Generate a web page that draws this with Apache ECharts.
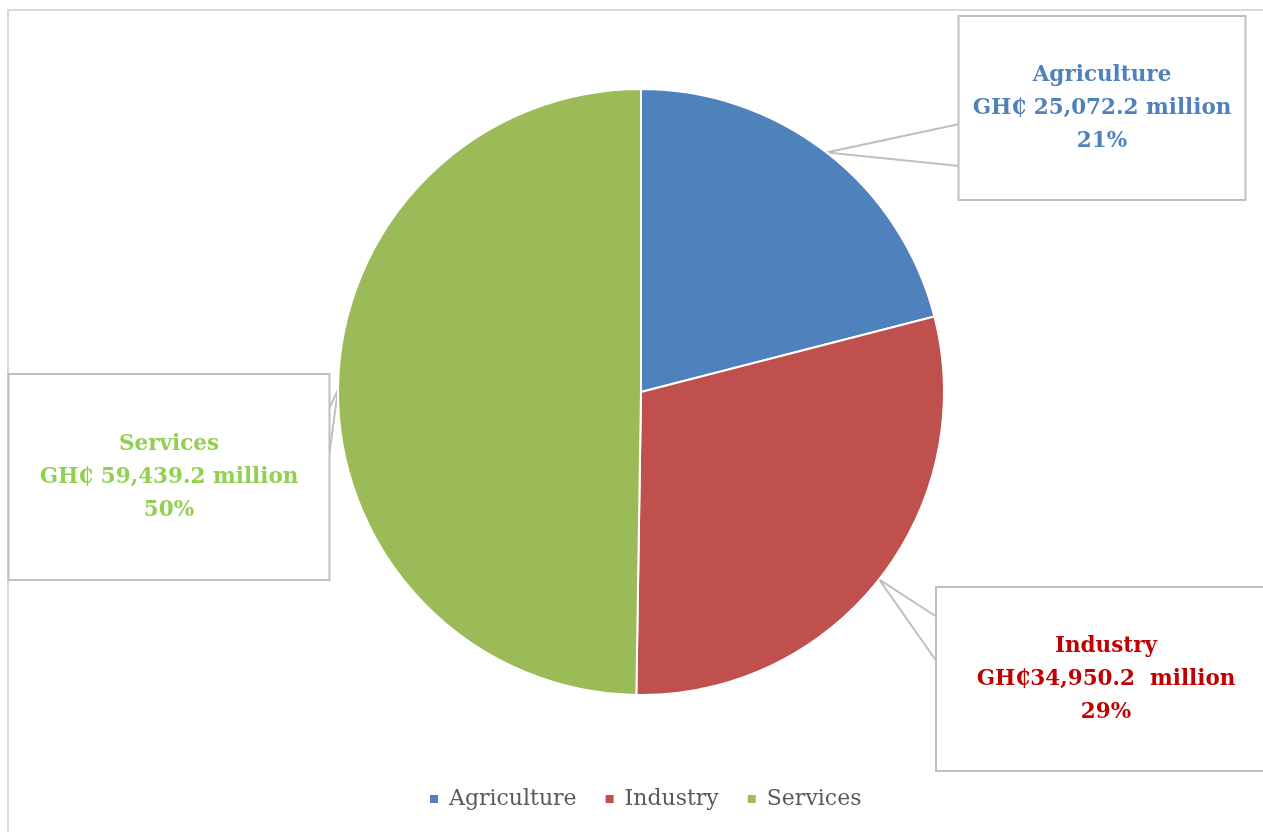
<!DOCTYPE html>
<html>
<head>
<meta charset="utf-8">
<script src="https://cdn.jsdelivr.net/npm/echarts@6/dist/echarts.min.js"></script>
<style>
  html, body { margin: 0; padding: 0; background: #fff; }
  #main { width: 1263px; height: 832px; }
</style>
</head>
<body>
<div id="main"></div>
<script>
// data
var categories = ['Agriculture', 'Industry', 'Services']
var values = [25072.2, 34950.2, 59439.2]
var currencyGap = [' ', '', ' ']      // space after GH₵ as printed
var unitGap = [' ', '  ', ' ']        // space before "million" as printed

// styles
var sliceColors = ['#4F81BD', '#C0504D', '#9BBB59']
var labelColors = ['#4F81BD', '#C00000', '#92D050']
// callout boxes: centre, size, and where the pointer meets the box side
var callouts = [
    { cx: 1102, cy: 108, w: 285, h: 182, side: 'left', py: [107, 149] },
    { cx: 1106, cy: 679, w: 338, h: 182, side: 'left', py: [29, 74] },
    { cx: 169, cy: 477, w: 319, h: 204, side: 'right', py: [35, 85] }
]

var chart = echarts.init(document.getElementById('main'))

function fmtAmount(i) {
    return 'GH₵' + currencyGap[i] +
        values[i].toLocaleString('en-US', { minimumFractionDigits: 1 }) +
        unitGap[i] + 'million'
}

var seriesData = categories.map(function (name, i) {
    var c = callouts[i]
    var pad = (c.h - 99) / 2
    return {
        name: name,
        value: values[i],
        itemStyle: { color: sliceColors[i] },
        label: {
            color: labelColors[i],
            width: c.w,
            padding: [pad + 7, 0, pad - 7, 0]
        }
    }
})

var option = {
    backgroundColor: '#fff',
    animation: false,
    graphic: [{
        type: 'rect',
        shape: { x: 8, y: 10, width: 1400, height: 1000 },
        style: { fill: 'none', stroke: '#d9d9d9', lineWidth: 2 },
        silent: true
    }],
    legend: {
        top: 788,
        left: 428,
        padding: 0,
        icon: 'rect',
        itemWidth: 10,
        itemHeight: 10,
        itemGap: 27,
        textStyle: { fontFamily: 'DejaVu Serif', fontSize: 22, color: '#595959', padding: [0, 0, 0, 5] },
        data: categories
    },
    series: [{
        type: 'pie',
        center: [641, 392],
        radius: 303,
        startAngle: 90,
        clockwise: true,
        data: seriesData,
        itemStyle: { borderColor: '#fff', borderWidth: 2 },
        label: {
            show: true,
            position: 'outside',
            fontFamily: 'DejaVu Serif',
            fontWeight: 'bold',
            fontSize: 21.5,
            lineHeight: 33,
            align: 'center',
            backgroundColor: '#fff',
            borderColor: '#bfbfbf',
            borderWidth: 2,
            formatter: function (p) {
                return p.name + '\n' + fmtAmount(p.dataIndex) + '\n' + Math.round(p.percent) + '%'
            }
        },
        labelLine: {
            show: true,
            length: 10,
            length2: 10,
            lineStyle: { color: '#bfbfbf', width: 2 }
        },
        labelLayout: function (params) {
            var c = callouts[params.dataIndex]
            var anchor = params.labelLinePoints ? params.labelLinePoints[0] : null
            var edgeX = c.side === 'left' ? c.cx - c.w / 2 : c.cx + c.w / 2
            var top = c.cy - c.h / 2
            var res = {
                x: c.cx,
                y: c.cy,
                align: 'center',
                verticalAlign: 'middle'
            }
            if (anchor) {
                res.labelLinePoints = [[edgeX, top + c.py[0]], [anchor[0], anchor[1]], [edgeX, top + c.py[1]]]
            }
            return res
        }
    }]
}

chart.setOption(option)
</script>
</body>
</html>
